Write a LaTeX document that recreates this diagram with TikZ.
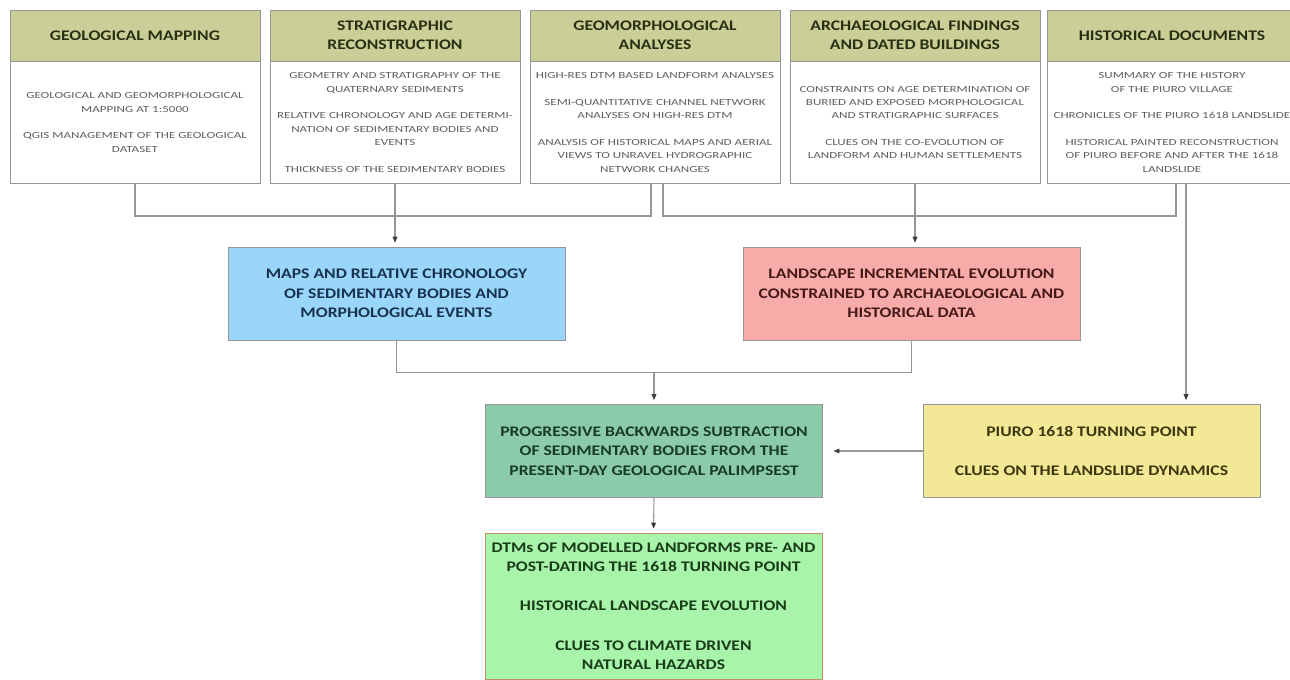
\documentclass[tikz,border=0pt]{standalone}
\usepackage{fontspec}
\setmainfont{Carlito}
\newfontfamily\titlefont[FakeStretch=1.2]{Carlito}
\newfontfamily\bodyfont[FakeStretch=1.4]{Carlito}
\usepackage{tikz}
\usetikzlibrary{arrows.meta, positioning}

\definecolor{linegray}{RGB}{150,150,150}
\definecolor{tipgray}{RGB}{60,60,60}
\definecolor{headfill}{RGB}{204,206,152}
\definecolor{headtext}{RGB}{40,48,20}
\definecolor{bodytext}{RGB}{95,95,95}
\definecolor{mapfill}{RGB}{153,214,249}
\definecolor{maptext}{RGB}{25,50,80}
\definecolor{evolfill}{RGB}{248,172,170}
\definecolor{evoltext}{RGB}{70,25,25}
\definecolor{subfill}{RGB}{140,202,172}
\definecolor{subtext}{RGB}{25,60,40}
\definecolor{piurofill}{RGB}{242,232,150}
\definecolor{piurotext}{RGB}{60,55,15}
\definecolor{dtmfill}{RGB}{168,244,170}
\definecolor{dtmtext}{RGB}{25,60,25}
\definecolor{dtmdraw}{RGB}{200,140,100}

\begin{document}
\begin{tikzpicture}[
  x=0.75pt, y=-0.75pt,
  head/.style={draw=linegray, fill=headfill, text=headtext, minimum width=187.5pt, minimum height=38.25pt, align=center, font=\titlefont\bfseries\fontsize{11}{14.5}\selectfont},
  body/.style={draw=linegray, fill=white, text=bodytext, minimum width=187.5pt, minimum height=91.5pt, align=center, font=\bodyfont\fontsize{7}{10}\selectfont},
  box/.style={draw=linegray, minimum width=252.75pt, minimum height=69.75pt, align=center, font=\titlefont\bfseries\fontsize{11}{14.5}\selectfont},
  link/.style={linegray, line width=1.1pt},
  arrow/.style={-{Triangle[length=4.5pt, width=3.5pt, color=tipgray]}, linegray, line width=0.8pt, shorten >=3pt}
]
\useasboundingbox (0,0) rectangle (1290,680);

% Top row: data sources
\node[head] (geohead) at (135,35.5) {GEOLOGICAL MAPPING};
\node[body, below=0pt of geohead] (geobody) {GEOLOGICAL AND GEOMORPHOLOGICAL\\MAPPING AT 1:5000\\[10pt]QGIS MANAGEMENT OF THE GEOLOGICAL\\DATASET};

\node[head] (strathead) at (395,35.5) {STRATIGRAPHIC\\RECONSTRUCTION};
\node[body, below=0pt of strathead] (stratbody) {GEOMETRY AND STRATIGRAPHY OF THE\\QUATERNARY SEDIMENTS\\[10pt]RELATIVE CHRONOLOGY AND AGE DETERMI-\\NATION OF SEDIMENTARY BODIES AND\\EVENTS\\[10pt]THICKNESS OF THE SEDIMENTARY BODIES};

\node[head] (morphhead) at (655,35.5) {GEOMORPHOLOGICAL\\ANALYSES};
\node[body, below=0pt of morphhead] (morphbody) {HIGH-RES DTM BASED LANDFORM ANALYSES\\[10pt]SEMI-QUANTITATIVE CHANNEL NETWORK\\ANALYSES ON HIGH-RES DTM\\[10pt]ANALYSIS OF HISTORICAL MAPS AND AERIAL\\VIEWS TO UNRAVEL HYDROGRAPHIC\\NETWORK CHANGES};

\node[head] (archhead) at (915,35.5) {ARCHAEOLOGICAL FINDINGS\\AND DATED BUILDINGS};
\node[body, below=0pt of archhead] (archbody) {CONSTRAINTS ON AGE DETERMINATION OF\\BURIED AND EXPOSED MORPHOLOGICAL\\AND STRATIGRAPHIC SURFACES\\[10pt]CLUES ON THE CO-EVOLUTION OF\\LANDFORM AND HUMAN SETTLEMENTS};

\node[head] (histhead) at (1172,35.5) {HISTORICAL DOCUMENTS};
\node[body, below=0pt of histhead] (histbody) {SUMMARY OF THE HISTORY\\OF THE PIURO VILLAGE\\[10pt]CHRONICLES OF THE PIURO 1618 LANDSLIDE\\[10pt]HISTORICAL PAINTED RECONSTRUCTION\\OF PIURO BEFORE AND AFTER THE 1618\\LANDSLIDE};

% Middle row: syntheses
\node[box, fill=mapfill, text=maptext] (mapbox) at (396.5,293.5) {MAPS AND RELATIVE CHRONOLOGY\\OF SEDIMENTARY BODIES AND\\MORPHOLOGICAL EVENTS};
\node[box, fill=evolfill, text=evoltext] (evolbox) at (911.5,293.5) {LANDSCAPE INCREMENTAL EVOLUTION\\CONSTRAINED TO ARCHAEOLOGICAL AND\\HISTORICAL DATA};

% Lower rows
\node[box, fill=subfill, text=subtext] (subbox) at (654,451) {PROGRESSIVE BACKWARDS SUBTRACTION\\OF SEDIMENTARY BODIES FROM THE\\PRESENT-DAY GEOLOGICAL PALIMPSEST};
\node[box, fill=piurofill, text=piurotext] (piurobox) at (1091.5,451) {PIURO 1618 TURNING POINT\\[15pt]CLUES ON THE LANDSLIDE DYNAMICS};
\node[box, fill=dtmfill, text=dtmtext, draw=dtmdraw, minimum height=109.5pt] (dtmbox) at (653.5,606) {DTMs OF MODELLED LANDFORMS PRE- AND\\POST-DATING THE 1618 TURNING POINT\\[15pt]HISTORICAL LANDSCAPE EVOLUTION\\[15pt]CLUES TO CLIMATE DRIVEN\\NATURAL HAZARDS};

% Connectors from the top row
\draw[link] (geobody.south) -- ++(0,32) -| ([xshift=-3pt]morphbody.south);
\draw[link] ([xshift=6pt]morphbody.south) -- ++(0,32) -| ([xshift=3pt]histbody.south);
\draw[arrow] (stratbody.south) -- (stratbody.south |- mapbox.north);
\draw[arrow] (archbody.south) -- (archbody.south |- evolbox.north);
\draw[arrow] ([xshift=10.5pt]histbody.south) -- ([xshift=10.5pt]histbody.south |- piurobox.north);

% Connectors to the subtraction step
\draw[link] (mapbox.south) -- ++(0,32) coordinate (merge) -| (evolbox.south);
\draw[arrow] (subbox.north |- merge) -- (subbox.north);
\draw[arrow, shorten >=8pt] (piurobox.west) -- (subbox.east);
\draw[arrow] (subbox.south) -- (dtmbox.north);

\end{tikzpicture}
\end{document}
